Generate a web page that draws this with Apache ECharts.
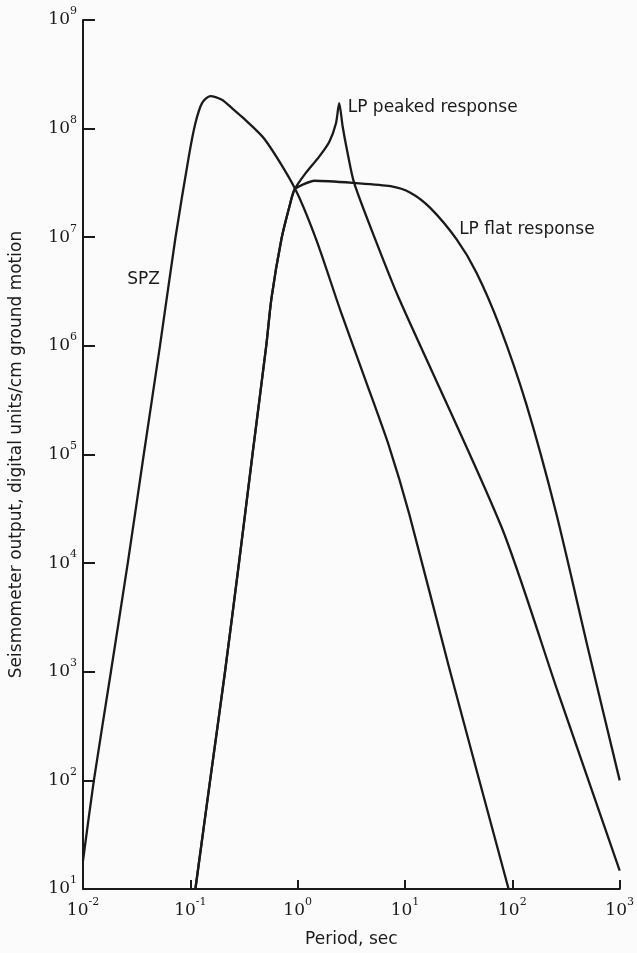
<!DOCTYPE html>
<html>
<head>
<meta charset="utf-8">
<script src="https://cdn.jsdelivr.net/npm/echarts@6/dist/echarts.min.js"></script>
<style>
  html, body { margin: 0; padding: 0; background: #fbfbfb; }
  #chart { width: 637px; height: 953px; }
</style>
</head>
<body>
<div id="chart"></div>
<script>
// values are exponents (log10)
const spzLogT   = [-2.0, -1.90, -1.74, -1.583, -1.434, -1.283, -1.138, -1.014, -0.953, -0.891, -0.814, -0.706, -0.614, -0.521, -0.306, -0.029, 0.172, 0.40, 0.63, 0.85, 1.04, 1.413, 1.965];
const spzLogOut = [1.26, 1.99, 3.0, 4.0, 5.0, 6.0, 7.0, 7.745, 8.05, 8.235, 8.30, 8.265, 8.19, 8.11, 7.90, 7.455, 6.98, 6.32, 5.69, 5.08, 4.45, 3.03, 1.0];

const flatLogT   = [-0.953, -0.817, -0.677, -0.547, -0.421, -0.293, -0.244, -0.152, -0.075, -0.029, 0.049, 0.156, 0.526, 0.865, 1.05, 1.235, 1.481, 1.666, 1.882, 2.128, 2.406, 2.713, 3.0];
const flatLogOut = [1.0, 1.99, 3.0, 4.0, 5.0, 6.0, 6.44, 6.98, 7.29, 7.44, 7.485, 7.52, 7.50, 7.47, 7.41, 7.27, 6.98, 6.674, 6.18, 5.47, 4.47, 3.18, 2.0];

const peakLogT   = [-0.953, -0.817, -0.677, -0.547, -0.421, -0.293, -0.244, -0.152, -0.075, -0.029, 0.064, 0.202, 0.295, 0.357, 0.387, 0.419, 0.465, 0.526, 0.711, 0.942, 1.90, 2.423, 3.0];
const peakLogOut = [1.0, 1.99, 3.0, 4.0, 5.0, 6.0, 6.44, 6.98, 7.29, 7.44, 7.577, 7.745, 7.88, 8.05, 8.235, 8.02, 7.776, 7.50, 7.01, 6.44, 4.33, 2.817, 1.17];

const toPairs = (lt, lo) => lt.map((t, i) => [Math.pow(10, t), Math.pow(10, lo[i])]);
const spzData = toPairs(spzLogT, spzLogOut);
const flatData = toPairs(flatLogT, flatLogOut);
const peakData = toPairs(peakLogT, peakLogOut);

const peakIdx = peakLogOut.indexOf(Math.max(...peakLogOut));
const flatLabelIdx = 16;

const ink = '#1a1a1a';
const textFont = 'DejaVu Sans';
const numFont = 'DejaVu Serif';

const powLabel = {
  color: ink,
  formatter: v => '{b|10}{s|' + Math.round(Math.log10(v)) + '}',
  rich: {
    b: { fontFamily: numFont, fontSize: 17, lineHeight: 28, color: ink },
    s: { fontFamily: numFont, fontSize: 11, lineHeight: 12, verticalAlign: 'top', color: ink }
  }
};

const lineStyle = { color: ink, width: 2.3, join: 'round' };

function annot(coord, text, position, offset) {
  return {
    symbol: 'circle', symbolSize: 1, silent: true,
    itemStyle: { color: 'rgba(0,0,0,0)' },
    data: [{
      coord: coord,
      label: {
        show: true, formatter: text, position: position, distance: 2, offset: offset,
        color: ink, fontFamily: textFont, fontSize: 17
      }
    }]
  };
}

const chart = echarts.init(document.getElementById('chart'));
chart.setOption({
  backgroundColor: '#fbfbfb',
  animation: false,
  grid: { left: 80, right: 16, top: 20, bottom: 62 },
  xAxis: {
    type: 'log', logBase: 10, min: 0.01, max: 1000, interval: 1,
    name: 'Period, sec', nameLocation: 'middle', nameGap: 42,
    nameTextStyle: { color: ink, fontFamily: textFont, fontSize: 17 },
    axisLine: { lineStyle: { color: ink, width: 2 } },
    axisTick: { inside: true, length: 9, lineStyle: { color: ink, width: 2 } },
    axisLabel: Object.assign({ margin: 8 }, powLabel),
    splitLine: { show: false }
  },
  yAxis: {
    type: 'log', logBase: 10, min: 10, max: 1e9, interval: 1,
    name: 'Seismometer output, digital units/cm ground motion',
    nameLocation: 'middle', nameGap: 58,
    nameTextStyle: { color: ink, fontFamily: textFont, fontSize: 17 },
    axisLine: { lineStyle: { color: ink, width: 2 } },
    axisTick: { inside: true, length: 12, lineStyle: { color: ink, width: 2 } },
    axisLabel: Object.assign({ margin: 6 }, powLabel),
    splitLine: { show: false }
  },
  series: [
    {
      name: 'SPZ', type: 'line', data: spzData, showSymbol: false, smooth: 0.25,
      lineStyle: lineStyle,
      markPoint: annot([Math.pow(10, -1.261), Math.pow(10, 6.613)], 'SPZ', 'left', [0, 0])
    },
    {
      name: 'LP flat response', type: 'line', data: flatData, showSymbol: false, smooth: 0.25,
      lineStyle: lineStyle,
      markPoint: annot(flatData[flatLabelIdx], 'LP flat response', 'right', [0, -10])
    },
    {
      name: 'LP peaked response', type: 'line', data: peakData, showSymbol: false, smooth: 0.25,
      lineStyle: lineStyle,
      markPoint: annot(peakData[peakIdx], 'LP peaked response', 'right', [6, 4])
    }
  ]
});
</script>
</body>
</html>
